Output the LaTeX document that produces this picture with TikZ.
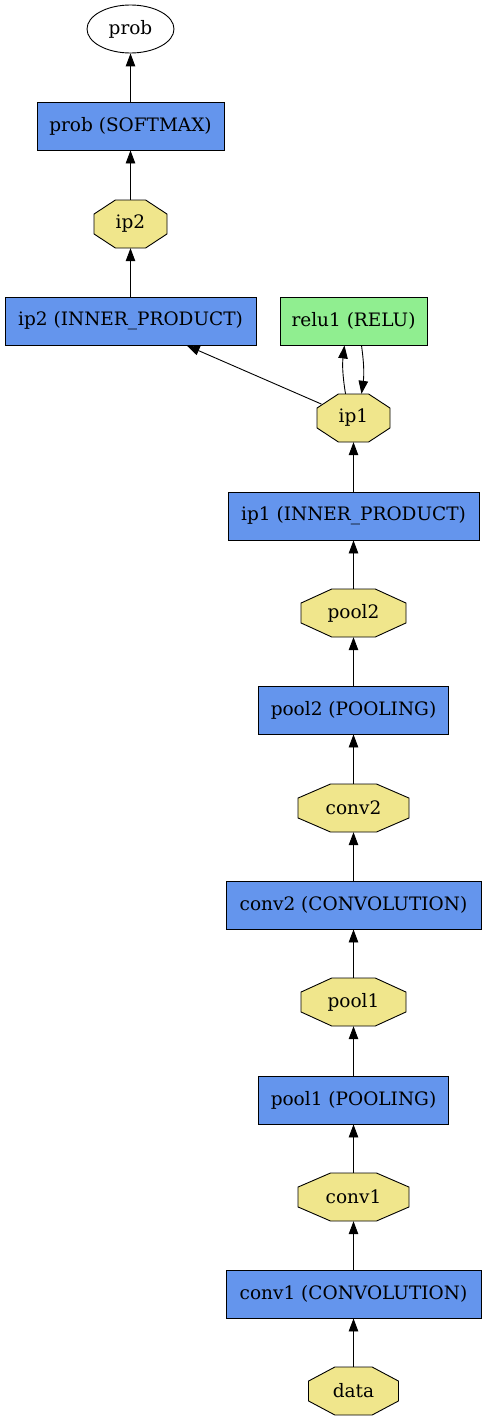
\documentclass[tikz,border=0pt]{standalone}
\usepackage{fontspec}
\setmainfont{DejaVu Serif}
\usetikzlibrary{arrows.meta}
\definecolor{cfblue}{HTML}{6495ED}
\definecolor{lgreen}{HTML}{90EE90}
\definecolor{khakic}{HTML}{F0E68C}
\tikzset{
  base/.style={font=\fontsize{18.5}{21}\selectfont, inner sep=0pt, minimum height=48pt},
  layerbox/.style={base, rectangle, draw=black, line width=0.9pt, fill=cfblue},
  relubox/.style={base, rectangle, draw=black, line width=0.9pt, fill=lgreen},
  octtext/.style={base, rectangle, draw=none},
  octstyle/.style={draw=black, line width=0.9pt, fill=khakic, line join=miter},
  blobell/.style={base, ellipse, draw=black, line width=0.9pt, minimum width=87pt},
  arr/.style={-{Triangle[length=13pt,width=9.5pt]}, line width=0.9pt},
}
\newcommand{\octo}[5]{%
  \filldraw[octstyle] ({#2-#4/2},{#3-9.94}) -- ({#2-#4/2},{#3+9.94}) -- ({#2-0.207*#4},{#3+24}) -- ({#2+0.207*#4},{#3+24}) -- ({#2+#4/2},{#3+9.94}) -- ({#2+#4/2},{#3-9.94}) -- ({#2+0.207*#4},{#3-24}) -- ({#2-0.207*#4},{#3-24}) -- cycle;
  \node[octtext, minimum width=#4pt] (#1) at (#2,#3) {#5};}
\usetikzlibrary{shapes.geometric}
\begin{document}
\begin{tikzpicture}[x=1pt,y=-1pt]
\useasboundingbox[fill=white] (0,0) rectangle (485,1421);
\node[blobell] (prob) at (130.5,29) {prob};
\node[layerbox, minimum width=187pt] (softmax) at (130.5,126) {prob (SOFTMAX)};
\octo{ip2}{130.5}{224}{73}{ip2}
\node[layerbox, minimum width=251pt] (ip2l) at (130.5,321) {ip2 (INNER\_PRODUCT)};
\node[relubox, minimum width=147pt] (relu) at (353.5,321) {relu1 (RELU)};
\octo{ip1}{353.5}{418}{73}{ip1}
\node[layerbox, minimum width=251pt] (ip1l) at (353.5,516) {ip1 (INNER\_PRODUCT)};
\octo{pool2}{353.5}{613}{105}{pool2}
\node[layerbox, minimum width=190pt] (pool2l) at (353.5,710) {pool2 (POOLING)};
\octo{conv2}{353.5}{808}{111}{conv2}
\node[layerbox, minimum width=255pt] (conv2l) at (353.5,905) {conv2 (CONVOLUTION)};
\octo{pool1}{353.5}{1002}{105}{pool1}
\node[layerbox, minimum width=190pt] (pool1l) at (353.5,1100) {pool1 (POOLING)};
\octo{conv1}{353.5}{1197}{111}{conv1}
\node[layerbox, minimum width=255pt] (conv1l) at (353.5,1294) {conv1 (CONVOLUTION)};
\octo{data}{353.5}{1391}{90}{data}

\draw[arr] (data) -- (conv1l);
\draw[arr] (conv1l) -- (conv1);
\draw[arr] (conv1) -- (pool1l);
\draw[arr] (pool1l) -- (pool1);
\draw[arr] (pool1) -- (conv2l);
\draw[arr] (conv2l) -- (conv2);
\draw[arr] (conv2) -- (pool2l);
\draw[arr] (pool2l) -- (pool2);
\draw[arr] (pool2) -- (ip1l);
\draw[arr] (ip1l) -- (ip1);
\draw[arr] ([xshift=-8pt]ip1.north) to[bend left=8] ([xshift=-9pt]relu.south);
\draw[arr] ([xshift=8pt]relu.south) to[bend left=8] ([xshift=8pt]ip1.north);
\draw[arr, shorten <=-5pt] (ip1) -- (ip2l);
\draw[arr] (ip2l) -- (ip2);
\draw[arr] (ip2) -- (softmax);
\draw[arr] (softmax) -- (prob);
\end{tikzpicture}
\end{document}
